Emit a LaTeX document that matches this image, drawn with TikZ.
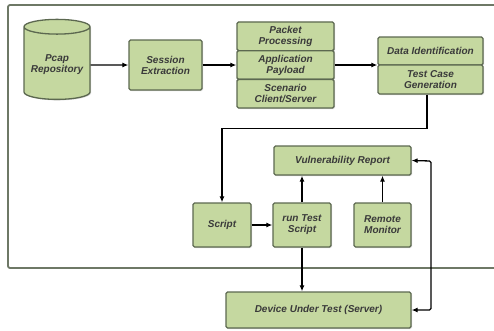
\documentclass[tikz,border=0pt]{standalone}
\usepackage{fontspec}
\setmainfont{Liberation Sans}
\usetikzlibrary{shapes.geometric,arrows.meta,shadows}
\definecolor{boxfill}{HTML}{C5D8A0}
\definecolor{boxline}{HTML}{5C6850}
\definecolor{frameline}{HTML}{6E7866}
\definecolor{txt}{HTML}{3A3A3A}
\tikzset{
  blk/.style={draw=boxline, line width=1.3pt, fill=boxfill, rounded corners=1.5pt,
    align=center, inner sep=1pt, text=txt,
    font=\fontsize{10}{11}\selectfont\bfseries\itshape,
    drop shadow={shadow xshift=1pt, shadow yshift=-1pt, fill=black!30}},
  arr/.style={draw=black, line width=1.3pt, -{Latex[length=6pt,width=5pt]}},
  frame/.style={draw=frameline, line width=1.8pt, rounded corners=2pt},
}
\begin{document}
\begin{tikzpicture}[x=1pt,y=-1pt]
\useasboundingbox (0,0) rectangle (494,330);
\clip (0,0) rectangle (494,330);
\draw[frame] (8,5) rectangle (520,268);
% cylinder
\node[cylinder, shape border rotate=90, aspect=0.25, draw=boxline, line width=1.3pt,
  fill=boxfill, minimum height=80pt, minimum width=66pt, align=center, text=txt,
  font=\fontsize{10}{11}\selectfont\bfseries\itshape,
  drop shadow={shadow xshift=1pt, shadow yshift=-1pt, fill=black!30}]
  (pcap) at (57,65) {Pcap\\Repository};
\node[blk, minimum width=73pt, minimum height=50pt] (sess) at (165.5,65) {Session\\Extraction};
\node[blk, minimum width=97pt, minimum height=28.7pt] (pp) at (285.5,36.3) {Packet\\Processing};
\node[blk, minimum width=97pt, minimum height=28.7pt] (ap) at (285.5,65) {Application\\Payload};
\node[blk, minimum width=97pt, minimum height=28.7pt] (sc) at (285.5,93.7) {Scenario\\Client/Server};
\node[blk, minimum width=105pt, minimum height=28pt] (di) at (430.5,51) {Data Identification};
\node[blk, minimum width=105pt, minimum height=29pt] (tc) at (430.5,79.5) {Test Case\\Generation};
\node[blk, minimum width=58pt, minimum height=44pt] (script) at (222,225) {Script};
\node[blk, minimum width=58pt, minimum height=44pt] (run) at (302,225) {run Test\\Script};
\node[blk, minimum width=57pt, minimum height=44pt] (remote) at (382.5,225) {Remote\\Monitor};
\node[blk, minimum width=137pt, minimum height=29pt] (vuln) at (342.5,160.5) {Vulnerability Report};
\node[blk, minimum width=185pt, minimum height=36pt] (dev) at (318.5,310) {Device Under Test (Server)};
% connectors
\draw[arr] (pcap.east) -- (sess.west);
\draw[arr] (sess.east) -- (ap.west);
\draw[arr] (ap.east) -- (ap.east -| di.west);
\draw[arr] ([xshift=-3.5pt]tc.south) -- ++(0,34) -| (script.north);
\draw[arr] (script.east) -- (run.west);
\draw[arr] (run.north) -- (run.north |- vuln.south);
\draw[arr] (remote.north) -- (remote.north |- vuln.south);
\draw[arr] (run.south) -- (run.south |- dev.north);
\coordinate (rt) at (431,161);
\coordinate (rb) at (431,310);
\draw[draw=black, line width=1.3pt, {Latex[length=6pt,width=5pt]}-{Latex[length=6pt,width=5pt]}, rounded corners=1.5pt]
  (vuln.east) -- (rt) -- (rb) -- (dev.east);
\end{tikzpicture}
\end{document}
